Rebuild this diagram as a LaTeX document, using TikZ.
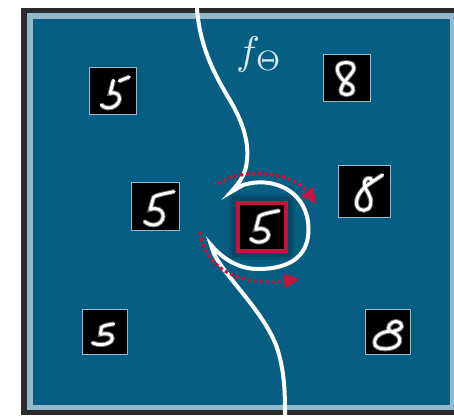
\documentclass[tikz,border=0pt]{standalone}
\usepackage{amsmath,amssymb}
\usepackage{graphicx}
\usepackage{tikz}
\usetikzlibrary{arrows.meta,positioning}
\usepackage{xcolor}

\definecolor{boardblue}{RGB}{6,94,130}
\definecolor{rimblue}{RGB}{147,185,203}
\definecolor{framegray}{RGB}{43,43,43}
\definecolor{pertred}{RGB}{193,22,62}
\definecolor{labelwhite}{RGB}{220,232,240}

\begin{document}
\begin{tikzpicture}[
  x=1pt, y=-1pt,
  sample/.style={draw=rimblue, line width=0.8pt, fill=black, inner sep=0pt, outer sep=0pt, minimum size=47pt},
  queryimg/.style={sample, draw=pertred, line width=4pt, minimum size=48pt},
  digit/.style={draw=white, line width=2.9pt, line cap=round, line join=round,
    preaction={draw=white!40!black, line width=4.9pt}},
  boundary/.style={draw=white, line width=4pt, line cap=round, line join=miter},
  perturb/.style={draw=pertred, line width=3.2pt, dash pattern=on 3.2pt off 2.8pt,
    -{Triangle[length=16pt, width=14pt]}},
  thetalabel/.style={text=labelwhite, anchor=base west, inner sep=0pt}
]

  \useasboundingbox (0,0) rectangle (454,415);
  \clip (0,0) rectangle (454,415);

  % board with its rim
  \fill[white] (0,0) rectangle (454,415);
  \fill[framegray] (21,8) rectangle (454,415);
  \fill[rimblue] (27,13) rectangle (454,410);
  \fill[boardblue] (33,19) rectangle (450,405);

  % dark halo behind the query
  \fill[black, opacity=0.10] (229,194) rectangle (295,260);
  \fill[black, opacity=0.12] (232,197) rectangle (292,257);

  % samples — fives on the left, eights on the right
  \node[sample] (fiveA) at (112.5,90.5) {};
  \node[sample] (eightA) at (346.5,78) {};
  \node[sample, minimum size=48pt] (fiveB) at (155,206) {};
  \node[sample, minimum size=52pt] (eightB) at (364.5,191.5) {};
  \node[queryimg] (query) at (262,227) {};
  \node[sample, minimum size=45pt] (fiveC) at (105,332) {};
  \node[sample, minimum size=45pt] (eightC) at (388,332) {};

  % handwritten strokes, unit box per sample
  \begin{scope}[shift={(fiveA.north west)}, x=47pt, y=-47pt]
    \draw[digit] (0.52,0.28) -- (0.45,0.56) .. controls (0.66,0.50) and (0.72,0.72) .. (0.55,0.83)
                 .. controls (0.45,0.90) and (0.32,0.88) .. (0.26,0.80);
    \draw[digit] (0.64,0.30) -- (0.86,0.21);
  \end{scope}

  \begin{scope}[shift={(eightA.north west)}, x=47pt, y=-47pt]
    \draw[digit] (0.49,0.60) .. controls (0.30,0.45) and (0.22,0.22) .. (0.42,0.18)
                 .. controls (0.62,0.14) and (0.72,0.25) .. (0.62,0.38)
                 .. controls (0.55,0.48) and (0.40,0.62) .. (0.38,0.75)
                 .. controls (0.36,0.88) and (0.62,0.90) .. (0.64,0.76)
                 .. controls (0.66,0.66) and (0.55,0.62) .. (0.49,0.60);
  \end{scope}

  \begin{scope}[shift={(fiveB.north west)}, x=48pt, y=-48pt]
    \draw[digit] (0.90,0.20) .. controls (0.70,0.24) and (0.50,0.28) .. (0.47,0.32) -- (0.40,0.57)
                 .. controls (0.70,0.48) and (0.75,0.80) .. (0.55,0.88)
                 .. controls (0.45,0.92) and (0.35,0.88) .. (0.28,0.82);
  \end{scope}

  \begin{scope}[shift={(eightB.north west)}, x=52pt, y=-52pt]
    \draw[digit] (0.85,0.18) -- (0.58,0.36) .. controls (0.45,0.44) and (0.32,0.62) .. (0.35,0.76)
                 .. controls (0.38,0.90) and (0.60,0.90) .. (0.62,0.74)
                 .. controls (0.64,0.58) and (0.52,0.48) .. (0.50,0.38)
                 .. controls (0.48,0.28) and (0.55,0.22) .. (0.62,0.25)
                 .. controls (0.66,0.28) and (0.64,0.33) .. (0.58,0.36);
  \end{scope}

  \begin{scope}[shift={(query.north west)}, x=48pt, y=-48pt]
    \draw[digit] (0.86,0.16) .. controls (0.65,0.20) and (0.47,0.24) .. (0.44,0.28) -- (0.37,0.55)
                 .. controls (0.65,0.46) and (0.72,0.74) .. (0.52,0.80)
                 .. controls (0.42,0.84) and (0.32,0.80) .. (0.26,0.74);
  \end{scope}

  \begin{scope}[shift={(fiveC.north west)}, x=45pt, y=-45pt]
    \draw[digit] (0.70,0.32) .. controls (0.60,0.33) and (0.45,0.36) .. (0.42,0.40) -- (0.40,0.55)
                 .. controls (0.65,0.50) and (0.72,0.62) .. (0.62,0.72)
                 .. controls (0.50,0.80) and (0.35,0.80) .. (0.22,0.74);
  \end{scope}

  \begin{scope}[shift={(eightC.north west)}, x=45pt, y=-45pt]
    \draw[digit] (0.55,0.48) .. controls (0.30,0.50) and (0.15,0.65) .. (0.22,0.80)
                 .. controls (0.30,0.92) and (0.70,0.90) .. (0.76,0.72)
                 .. controls (0.80,0.60) and (0.65,0.52) .. (0.55,0.48)
                 .. controls (0.45,0.42) and (0.55,0.25) .. (0.70,0.27)
                 .. controls (0.85,0.30) and (0.85,0.45) .. (0.62,0.48);
  \end{scope}

  % decision boundary wrapping round the query
  \draw[boundary] (197,9) .. controls (200,45) and (212,70) .. (228,97)
                  .. controls (242,120) and (249,140) .. (247,160)
                  .. controls (246,174) and (240,182) .. (231,192) -- (243,185)
                  .. controls (272,176) and (304,190) .. (308,222)
                  .. controls (312,256) and (290,269) .. (258,269)
                  .. controls (238,269) and (222,258) .. (211,245) -- (214,254)
                  .. controls (228,280) and (262,310) .. (276,345)
                  .. controls (285,370) and (285,395) .. (285,416);

  % perturbation directions
  \coordinate (upstart) at (218,184);
  \coordinate (upend) at (317,204);
  \coordinate (lowstart) at (200,232);
  \coordinate (lowend) at (300,279);
  \draw[perturb] (upstart) .. controls (240,168) and (290,170) .. (upend);
  \draw[perturb] (lowstart) .. controls (205,272) and (245,286) .. (lowend);

  \node[thetalabel] (ftheta) at (236,64) {\scalebox{4}{$f_\Theta$}};

\end{tikzpicture}
\end{document}
